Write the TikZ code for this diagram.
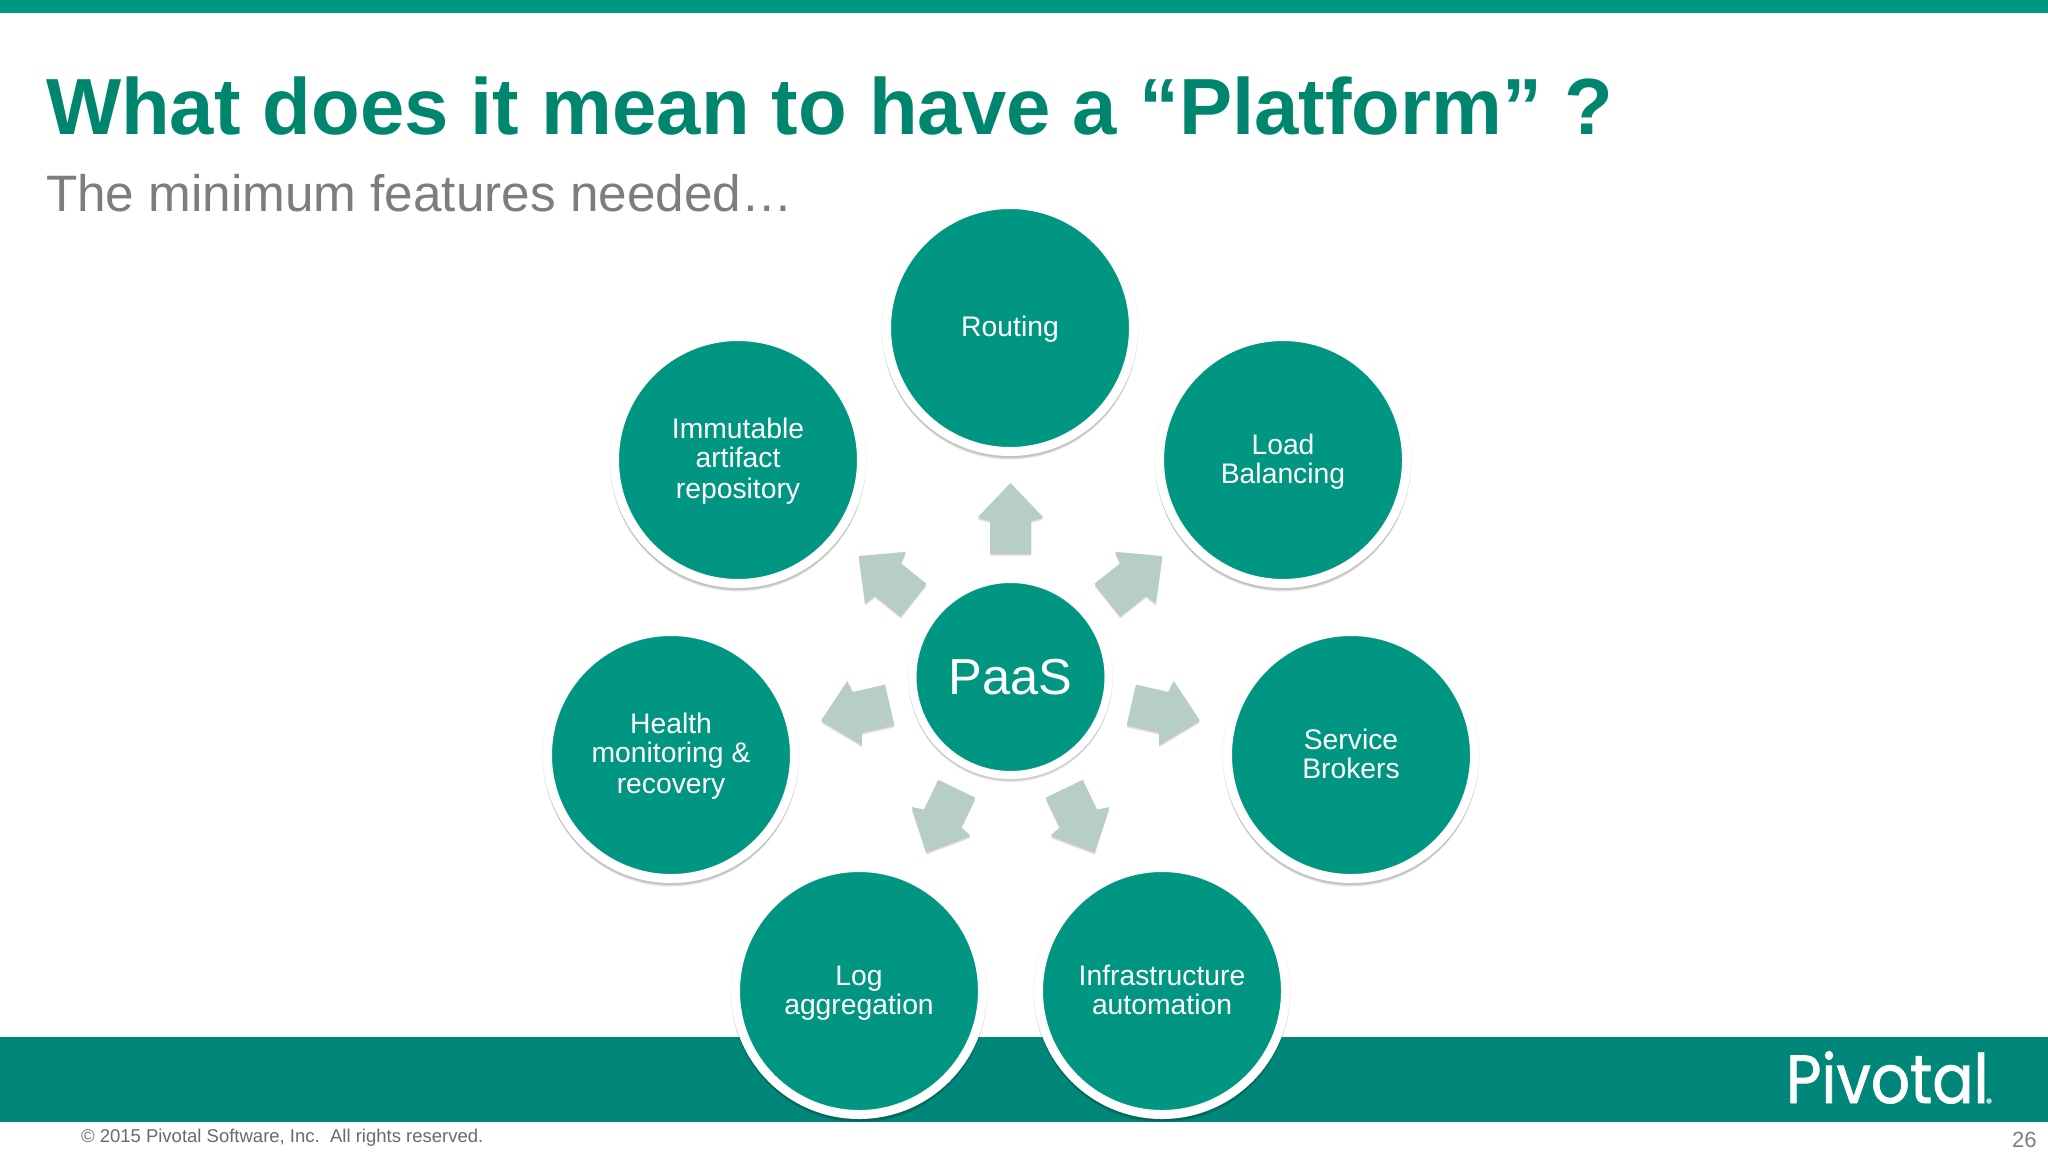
\documentclass[tikz,border=0pt]{standalone}
\usepackage{graphicx}
\usepackage{fontspec}
\setmainfont{Liberation Sans}
\newfontfamily\logofont[FakeBold=1.3]{Poppins}
\definecolor{tealc}{HTML}{009681}
\definecolor{bandc}{HTML}{008779}
\definecolor{titlec}{HTML}{00856F}
\definecolor{subc}{HTML}{7E7C7F}
\definecolor{arrowc}{HTML}{B6CDC8}
\newcommand{\sx}{\rule{0pt}{11.7pt}}
\newcommand{\sy}{\vphantom{g}}
\tikzset{
  hub/.style={circle,fill=tealc,draw=white,line width=4.5pt,outer sep=0pt,inner sep=0pt,
    minimum size=123.5pt,text=white,align=center,
    font=\fontsize{14.15pt}{14.5pt}\selectfont},
  core/.style={hub,line width=4pt,minimum size=98pt,font=\fontsize{25.3pt}{28pt}\selectfont},
  halo/.style={circle,fill=black,opacity=0.05,inner sep=0pt,outer sep=0pt},
  blockarrow/.style={fill=arrowc,draw=none},
  arrowshade/.style={fill=black,opacity=0.08,draw=none},
  lbl/.style={inner sep=0pt,outer sep=0pt,anchor=base west}
}
% name, x, y, text
\newcommand{\feature}[4]{%
  \foreach \dr/\dy in {128.6/1,128/2,127.6/3,127.2/4,126.6/5}{
    \node[halo,minimum size=\dr pt] at (#2,#3+\dy) {};
  }
  \node[hub] (#1) at (#2,#3) {#4};
}
\newcommand{\arrowoutline}{(-20.5,-124) -- (-20.5,-157) -- (-32.5,-160) -- (0,-194) -- (32.5,-160) -- (20.5,-157) -- (20.5,-124) -- cycle}
\begin{document}
\begin{tikzpicture}[x=0.5pt,y=-0.5pt]
\useasboundingbox (0,0) rectangle (2048,1152);
\fill[white] (0,0) rectangle (2048,1152);
\fill[tealc] (0,0) rectangle (2048,12.5);
\fill[bandc] (0,1037) rectangle (2048,1122);

\node[lbl,text=titlec,font=\fontsize{39.83pt}{44pt}\selectfont\bfseries] (title) at (46,134) {What does it mean to have a “Platform” ?};
\node[lbl,text=subc,font=\fontsize{25.63pt}{30pt}\selectfont] (subtitle) at (46,211) {The minimum features needed…};

\feature{routing}{1010}{328}{\sx Routing\sy}
\feature{load}{1283}{460}{\sx Load\\Balancing\sy}
\feature{service}{1351}{755}{\sx Service\\Brokers\sy}
\feature{infra}{1162}{991}{\sx Infrastructure\\automation\sy}
\feature{logagg}{859}{991}{\sx Log\\aggregation\sy}
\feature{health}{671}{755}{\sx Health\\monitoring \&\\[0.8pt]recovery\sy}
\feature{immutable}{738}{460}{\sx Immutable\\artifact\\[0.8pt]repository\sy}

\foreach \dr/\dy in {102.6/1,102/2,101.6/3,101.2/4}{
  \node[halo,minimum size=\dr pt] at (1010.5,677+\dy) {};
}
\node[core] (paas) at (1010.5,677) {\rule{0pt}{23pt}PaaS\sy};

\foreach \k in {0,...,6}{
  \foreach \dy in {1,2,3}{
    \begin{scope}[shift={(paas.center)},yshift=-\dy*0.5pt,rotate=-\k*51.4286]
      \path[arrowshade] \arrowoutline;
    \end{scope}
  }
  \begin{scope}[shift={(paas.center)},rotate=-\k*51.4286]
    \path[blockarrow] \arrowoutline;
  \end{scope}
}

\node[anchor=base west,inner sep=0pt,outer sep=0pt,text=white,font=\fontsize{34pt}{38pt}\logofont] (logo) at (1786,1103) {\scalebox{.9}[1]{Pivotal}};
\fill[white!70!bandc] (1989,1101) circle (2.8);
\node[lbl,text=subc!85!black,font=\fontsize{9.25pt}{12pt}\selectfont] (copy) at (81,1142) {© 2015 Pivotal Software, Inc.\ \ All rights reserved.};
\node[lbl,text=subc,font=\fontsize{11pt}{13pt}\selectfont] (page) at (2012,1147) {26};
\end{tikzpicture}
\end{document}
